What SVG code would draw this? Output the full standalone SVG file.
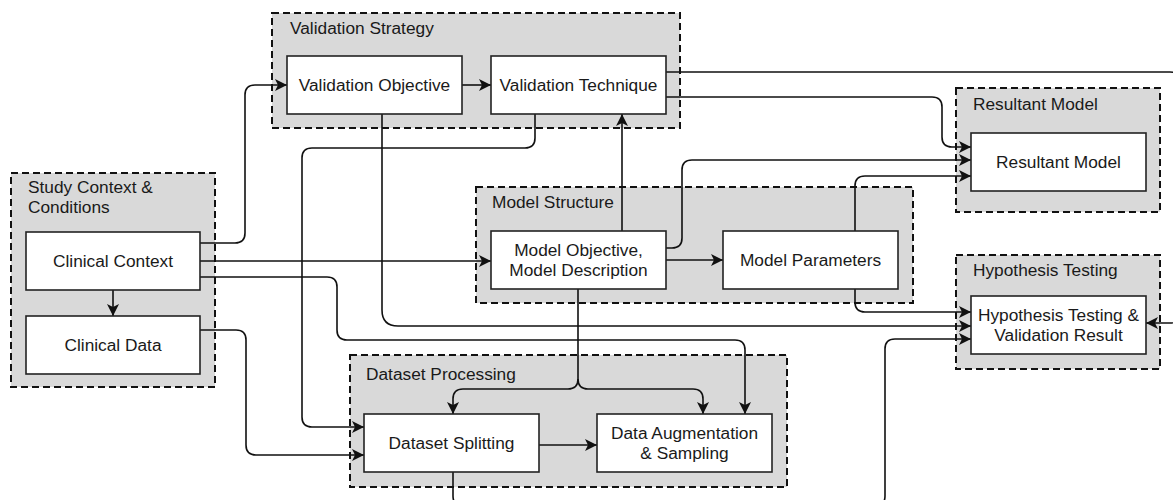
<svg xmlns="http://www.w3.org/2000/svg" width="1173" height="500" viewBox="0 0 1173 500">
  <style>
    .grp { fill: #d9d9d9; stroke: #111; stroke-width: 2; stroke-dasharray: 7 4; }
    .box { fill: #fff; stroke: #222; stroke-width: 1.6; }
    .t { font-family: "Liberation Sans", Arial, sans-serif; font-size: 17.3px; fill: #1a1a1a; }
    .c { text-anchor: middle; }
    .ln { fill: none; stroke: #111; stroke-width: 1.6; }
    .arr { marker-end: url(#ah); }
  </style>
  <defs>
    <marker id="ah" markerWidth="13" markerHeight="12" refX="12" refY="6" orient="auto" markerUnits="userSpaceOnUse">
      <path d="M0,0 L12,6 L0,12 L3,6 z" fill="#111"/>
    </marker>
  </defs>

  <!-- container groups -->
  <g id="validation-strategy">
    <rect class="grp" x="272" y="13" width="408" height="115"/>
    <text class="t" x="290" y="34">Validation Strategy</text>
  </g>
  <g id="resultant-model-group">
    <rect class="grp" x="956" y="88" width="204" height="124"/>
    <text class="t" x="973" y="110">Resultant Model</text>
  </g>
  <g id="study-context">
    <rect class="grp" x="11" y="173" width="204" height="214"/>
    <text class="t" x="28" y="193">Study Context &amp;</text>
    <text class="t" x="28" y="213">Conditions</text>
  </g>
  <g id="model-structure">
    <rect class="grp" x="476" y="187" width="437" height="116"/>
    <text class="t" x="492" y="208">Model Structure</text>
  </g>
  <g id="hypothesis-testing-group">
    <rect class="grp" x="956" y="255" width="204" height="114"/>
    <text class="t" x="973" y="276">Hypothesis Testing</text>
  </g>
  <g id="dataset-processing">
    <rect class="grp" x="350" y="355" width="437" height="132"/>
    <text class="t" x="366" y="380">Dataset Processing</text>
  </g>

  <!-- connectors -->
  <g id="connectors">
    <path class="ln arr" d="M200,243 H235 Q245,243 245,233 V95 Q245,85 255,85 H287"/>
    <path class="ln arr" d="M462,85 H491"/>
    <path class="ln arr" d="M666,72 H1170 Q1180,72 1180,82 V313 Q1180,323 1170,323 H1146"/>
    <path class="ln arr" d="M666,97 H932 Q942,97 942,107 V137 Q942,147 952,147 H971"/>
    <path class="ln arr" d="M666,248 H672 Q682,248 682,238 V170 Q682,160 692,160 H971"/>
    <path class="ln arr" d="M855,231 V186 Q855,176 865,176 H971"/>
    <path class="ln arr" d="M622,231 V114"/>
    <path class="ln arr" d="M666,260 H723"/>
    <path class="ln arr" d="M200,261 H491"/>
    <path class="ln arr" d="M200,277 H327 Q337,277 337,287 V330 Q337,340 347,340 H735 Q745,340 745,350 V414"/>
    <path class="ln arr" d="M382,114 V310 Q382,326 398,326 H971"/>
    <path class="ln arr" d="M855,289 V302 Q855,312 865,312 H971"/>
    <path class="ln arr" d="M535,114 V138 Q535,148 525,148 H312 Q302,148 302,158 V417 Q302,427 312,427 H364"/>
    <path class="ln arr" d="M200,330 H236 Q246,330 246,340 V445 Q246,455 256,455 H364"/>
    <path class="ln arr" d="M578,289 V379 Q578,389 568,389 H463 Q453,389 453,399 V414"/>
    <path class="ln arr" d="M578,379 Q578,389 588,389 H693 Q703,389 703,399 V414"/>
    <path class="ln arr" d="M539,445 H597"/>
    <path class="ln arr" d="M453,472 V496 Q453,506 463,506 H875 Q885,506 885,496 V349 Q885,339 895,339 H971"/>
    <path class="ln arr" d="M113,290 V316"/>
  </g>

  <!-- nodes -->
  <g id="validation-objective">
    <rect class="box" x="287" y="56" width="175" height="58"/>
    <text class="t c" x="374.5" y="91">Validation Objective</text>
  </g>
  <g id="validation-technique">
    <rect class="box" x="491" y="56" width="175" height="58"/>
    <text class="t c" x="578.5" y="91">Validation Technique</text>
  </g>
  <g id="resultant-model">
    <rect class="box" x="971" y="133" width="175" height="58"/>
    <text class="t c" x="1058.5" y="168">Resultant Model</text>
  </g>
  <g id="clinical-context">
    <rect class="box" x="26" y="232" width="174" height="58"/>
    <text class="t c" x="113" y="267">Clinical Context</text>
  </g>
  <g id="clinical-data">
    <rect class="box" x="26" y="316" width="174" height="58"/>
    <text class="t c" x="113" y="351">Clinical Data</text>
  </g>
  <g id="model-objective">
    <rect class="box" x="491" y="231" width="175" height="58"/>
    <text class="t c" x="578.5" y="256">Model Objective,</text>
    <text class="t c" x="578.5" y="276">Model Description</text>
  </g>
  <g id="model-parameters">
    <rect class="box" x="723" y="231" width="175" height="58"/>
    <text class="t c" x="810.5" y="266">Model Parameters</text>
  </g>
  <g id="hypothesis-testing">
    <rect class="box" x="971" y="296" width="175" height="58"/>
    <text class="t c" x="1058.5" y="321">Hypothesis Testing &amp;</text>
    <text class="t c" x="1058.5" y="341">Validation Result</text>
  </g>
  <g id="dataset-splitting">
    <rect class="box" x="364" y="414" width="175" height="58"/>
    <text class="t c" x="451.5" y="449">Dataset Splitting</text>
  </g>
  <g id="data-augmentation">
    <rect class="box" x="597" y="414" width="175" height="58"/>
    <text class="t c" x="684.5" y="439">Data Augmentation</text>
    <text class="t c" x="684.5" y="459">&amp; Sampling</text>
  </g>
</svg>
